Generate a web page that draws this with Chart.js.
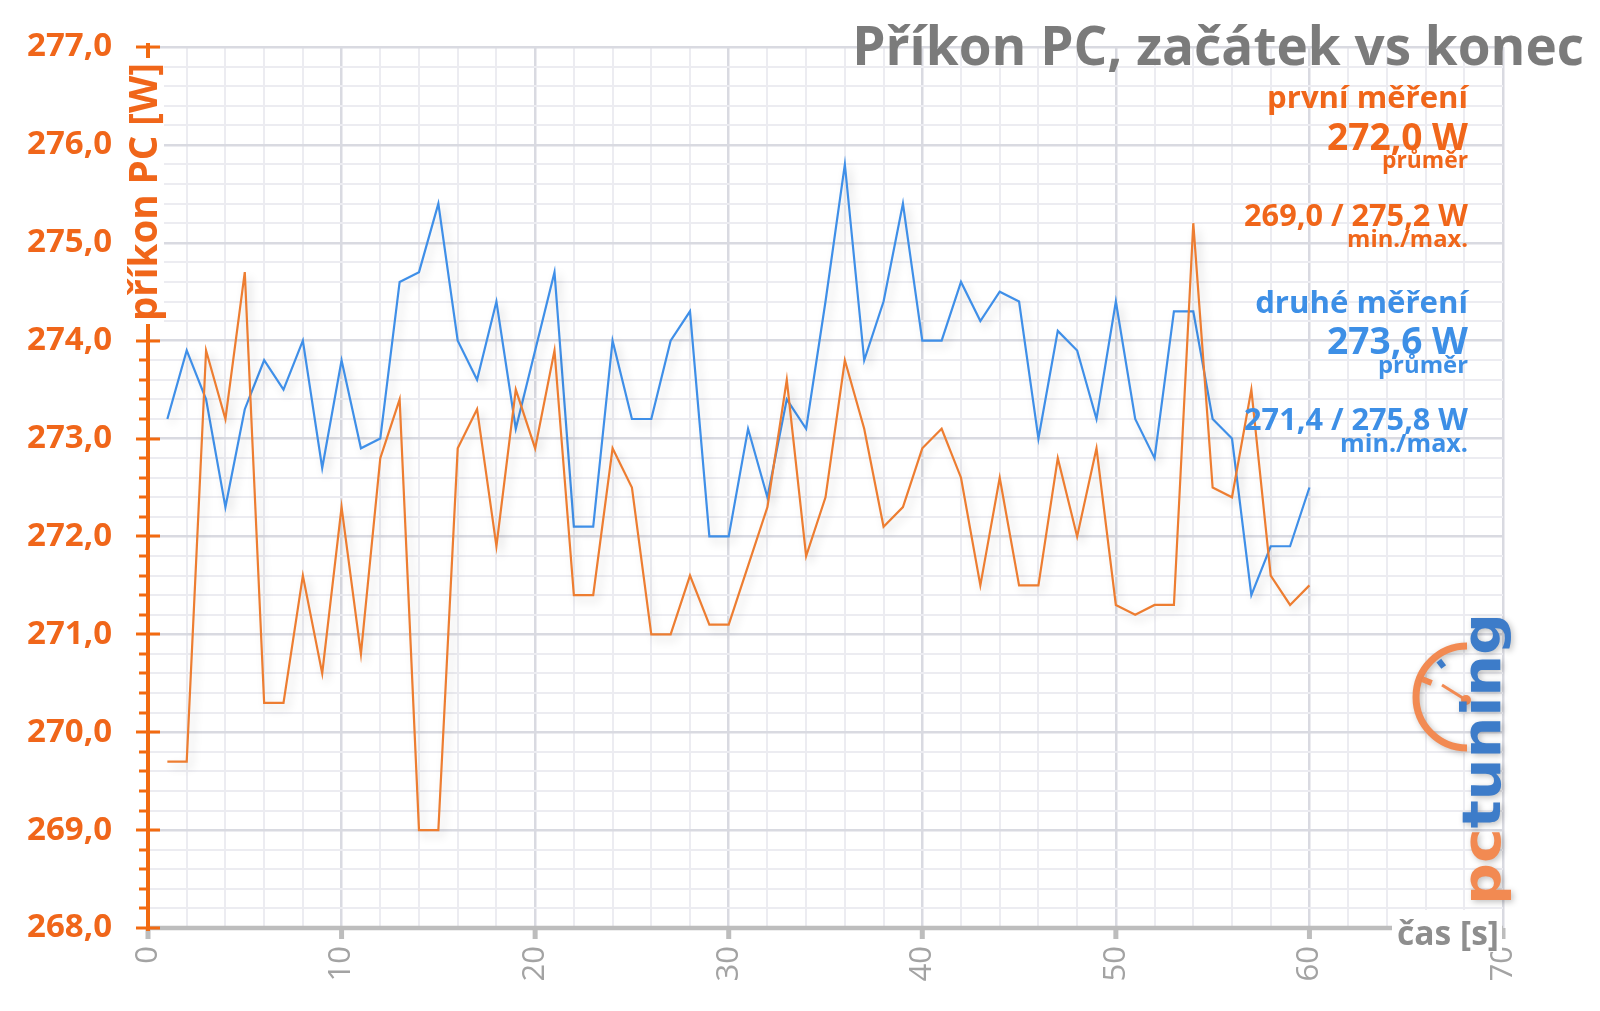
<!DOCTYPE html>
<html>
<head>
<meta charset="utf-8">
<script src="https://cdn.jsdelivr.net/npm/chart.js@4.4.1/dist/chart.umd.min.js"></script>
<style>
html,body{margin:0;padding:0;background:#ffffff;}
canvas{display:block;}
</style>
</head>
<body>
<canvas id="c" width="1600" height="1011"></canvas>
<script>
// ---------- data ----------
const seconds = [1,2,3,4,5,6,7,8,9,10,11,12,13,14,15,16,17,18,19,20,21,22,23,24,25,26,27,28,29,30,
                 31,32,33,34,35,36,37,38,39,40,41,42,43,44,45,46,47,48,49,50,51,52,53,54,55,56,57,58,59,60];
const firstRun = [269.7,269.7,273.9,273.2,274.7,270.3,270.3,271.6,270.6,272.3,
                  270.8,272.8,273.4,269.0,269.0,272.9,273.3,271.9,273.5,272.9,
                  273.9,271.4,271.4,272.9,272.5,271.0,271.0,271.6,271.1,271.1,
                  271.7,272.3,273.6,271.8,272.4,273.8,273.1,272.1,272.3,272.9,
                  273.1,272.6,271.5,272.6,271.5,271.5,272.8,272.0,272.9,271.3,
                  271.2,271.3,271.3,275.2,272.5,272.4,273.5,271.6,271.3,271.5];
const secondRun = [273.2,273.9,273.4,272.3,273.3,273.8,273.5,274.0,272.7,273.8,
                   272.9,273.0,274.6,274.7,275.4,274.0,273.6,274.4,273.1,273.9,
                   274.7,272.1,272.1,274.0,273.2,273.2,274.0,274.3,272.0,272.0,
                   273.1,272.4,273.4,273.1,274.4,275.8,273.8,274.4,275.4,274.0,
                   274.0,274.6,274.2,274.5,274.4,273.0,274.1,273.9,273.2,274.4,
                   273.2,272.8,274.3,274.3,273.2,273.0,271.4,271.9,271.9,272.5];
const xTickLabels = ['0','10','20','30','40','50','60','70'];
const yTickLabels = ['268,0','269,0','270,0','271,0','272,0','273,0','274,0','275,0','276,0','277,0'];
const seriesNames = ['první měření','druhé měření'];
const chartTitle = 'Příkon PC, začátek vs konec';
const yAxisTitle = 'příkon PC [W]';
const xAxisTitle = 'čas [s]';
const firstNotes = ['272,0 W','průměr','269,0 / 275,2 W','min./max.'];
const secondNotes = ['273,6 W','průměr','271,4 / 275,8 W','min./max.'];
const logoParts = ['pc','tuning'];

// ---------- styles ----------
const ORANGE_TEXT = '#f0661a';
const BLUE_TEXT = '#3d8fe6';
const ORANGE_LINE = '#ed7d31';
const BLUE_LINE = '#3f8fe8';
const GRID_MAJOR = '#d9dae1';
const GRID_MINOR = '#ececf1';
const FONT = 'Open Sans';

function fitText(ctx, text, x, y, targetW, weight, color, align) {
  ctx.font = `${weight} 40px "${FONT}"`;
  const w = ctx.measureText(text).width;
  const size = 40 * targetW / w;
  ctx.font = `${weight} ${size}px "${FONT}"`;
  ctx.fillStyle = color;
  ctx.textAlign = align;
  ctx.textBaseline = 'alphabetic';
  ctx.fillText(text, x, y);
}

const decor = {
  id: 'decor',
  beforeDatasetDraw(chart) {
    const ctx = chart.ctx;
    ctx.save();
    ctx.shadowColor = 'rgba(0,0,0,0.16)';
    ctx.shadowBlur = 10;
    ctx.shadowOffsetX = 4;
    ctx.shadowOffsetY = 5;
  },
  afterDatasetDraw(chart) {
    chart.ctx.restore();
  },
  afterDraw(chart) {
    const ctx = chart.ctx;
    const xs = chart.scales.x, ys = chart.scales.y;
    const x0 = xs.getPixelForValue(0), x70 = xs.getPixelForValue(70);
    const yBottom = ys.getPixelForValue(268), yTop = ys.getPixelForValue(277);
    ctx.save();
    // x axis line
    ctx.strokeStyle = '#bdbdbd';
    ctx.lineWidth = 4.5;
    ctx.beginPath(); ctx.moveTo(x0, yBottom); ctx.lineTo(x70, yBottom); ctx.stroke();
    // x major ticks
    ctx.lineWidth = 5;
    for (let v = 0; v <= 70; v += 10) {
      const px = xs.getPixelForValue(v);
      ctx.beginPath(); ctx.moveTo(px, yBottom); ctx.lineTo(px, yBottom + 11); ctx.stroke();
    }
    // y axis line
    ctx.strokeStyle = '#f26a10';
    ctx.lineWidth = 4;
    ctx.beginPath(); ctx.moveTo(x0, yTop - 4); ctx.lineTo(x0, yBottom + 3); ctx.stroke();
    // y ticks
    ctx.lineWidth = 3;
    for (let i = 0; i <= 45; i++) {
      const v = 268 + i * 0.2;
      const py = Math.round(ys.getPixelForValue(v));
      const major = i % 5 === 0;
      ctx.beginPath();
      if (major) { ctx.moveTo(x0 - 12, py); ctx.lineTo(x0 + 12, py); }
      else { ctx.moveTo(x0 - 9, py); ctx.lineTo(x0, py); }
      ctx.stroke();
    }
    // y axis title with white box
    ctx.fillStyle = '#ffffff';
    ctx.fillRect(x0 - 24, 58, 40, 266);
    ctx.save();
    ctx.translate(x0 + 9, 321);
    ctx.rotate(-Math.PI / 2);
    fitText(ctx, yAxisTitle, 0, 0, 258, 'bold', ORANGE_TEXT, 'left');
    ctx.restore();
    // x axis title with white box
    ctx.fillStyle = '#ffffff';
    ctx.fillRect(1392, 910, 110, 42);
    fitText(ctx, xAxisTitle, 1499, 945, 102, 'bold', '#8e8e8e', 'right');
    // chart title
    fitText(ctx, chartTitle, 1584, 65, 732, 'bold', '#7b7b7b', 'right');
    // annotations
    const R = 1468;
    fitText(ctx, seriesNames[0], R, 108, 201, 'bold', ORANGE_TEXT, 'right');
    fitText(ctx, firstNotes[0], R, 150, 141, 'bold', ORANGE_TEXT, 'right');
    fitText(ctx, firstNotes[1], R, 168, 86, 'bold', ORANGE_TEXT, 'right');
    fitText(ctx, firstNotes[2], R, 226, 224, 'bold', ORANGE_TEXT, 'right');
    fitText(ctx, firstNotes[3], R, 247, 121, 'bold', ORANGE_TEXT, 'right');
    fitText(ctx, seriesNames[1], R, 313, 213, 'bold', BLUE_TEXT, 'right');
    fitText(ctx, secondNotes[0], R, 354, 141, 'bold', BLUE_TEXT, 'right');
    fitText(ctx, secondNotes[1], R, 373, 90, 'bold', BLUE_TEXT, 'right');
    fitText(ctx, secondNotes[2], R, 430, 224, 'bold', BLUE_TEXT, 'right');
    fitText(ctx, secondNotes[3], R, 452, 128, 'bold', BLUE_TEXT, 'right');
    // logo
    ctx.shadowColor = 'rgba(0,0,0,0.25)';
    ctx.shadowBlur = 6; ctx.shadowOffsetX = 2; ctx.shadowOffsetY = 2;
    const cx = 1467, cy = 697;
    ctx.strokeStyle = '#f28a52';
    ctx.lineWidth = 7;
    ctx.beginPath(); ctx.arc(cx, cy, 51, Math.PI * 0.5, Math.PI * 1.5); ctx.stroke();
    ctx.lineWidth = 6;
    const a1 = Math.PI * 1.29;
    ctx.strokeStyle = '#3d7cc9';
    ctx.beginPath(); ctx.moveTo(cx + Math.cos(a1) * 38, cy + Math.sin(a1) * 38); ctx.lineTo(cx + Math.cos(a1) * 46, cy + Math.sin(a1) * 46); ctx.stroke();
    const a2 = Math.PI * 1.12;
    ctx.strokeStyle = '#f28a52';
    ctx.beginPath(); ctx.moveTo(cx + Math.cos(a2) * 38, cy + Math.sin(a2) * 38); ctx.lineTo(cx + Math.cos(a2) * 48, cy + Math.sin(a2) * 48); ctx.stroke();
    ctx.lineWidth = 3;
    ctx.beginPath(); ctx.moveTo(cx - 1, cy + 3); ctx.lineTo(cx - 25, cy - 12); ctx.stroke();
    ctx.fillStyle = '#f28a52';
    ctx.beginPath(); ctx.arc(cx - 1, cy + 3, 5, 0, Math.PI * 2); ctx.fill();
    ctx.save();
    ctx.translate(1500, 905);
    ctx.rotate(-Math.PI / 2);
    ctx.font = `bold 54px "DejaVu Sans"`;
    ctx.textAlign = 'left';
    ctx.textBaseline = 'alphabetic';
    const wAll = ctx.measureText(logoParts[0] + logoParts[1]).width;
    ctx.scale(292 / wAll, 1);
    ctx.fillStyle = '#f28a52';
    ctx.fillText(logoParts[0], 0, 0);
    const w0 = ctx.measureText(logoParts[0]).width;
    ctx.fillStyle = '#3d7cc9';
    ctx.fillText(logoParts[1], w0, 0);
    ctx.restore();
    ctx.restore();
  }
};

const ctx = document.getElementById('c').getContext('2d');
new Chart(ctx, {
  type: 'line',
  data: {
    datasets: [
      { label: seriesNames[0], data: seconds.map((s, i) => ({ x: s, y: firstRun[i] })),
        borderColor: ORANGE_LINE, borderWidth: 2.2, pointRadius: 0, tension: 0, fill: false },
      { label: seriesNames[1], data: seconds.map((s, i) => ({ x: s, y: secondRun[i] })),
        borderColor: BLUE_LINE, borderWidth: 2.2, pointRadius: 0, tension: 0, fill: false }
    ]
  },
  options: {
    responsive: false,
    animation: false,
    devicePixelRatio: 1,
    layout: { padding: { top: 47, right: 97, left: 0, bottom: 0 } },
    plugins: { legend: { display: false }, tooltip: { enabled: false }, title: { display: false } },
    scales: {
      x: {
        type: 'linear', min: 0, max: 70,
        afterFit(s) { s.height = 83; },
        border: { display: false },
        grid: {
          drawTicks: false,
          color: (c) => (c.tick && Math.round(c.tick.value) % 10 === 0) ? GRID_MAJOR : GRID_MINOR,
          lineWidth: (c) => (c.tick && Math.round(c.tick.value) % 10 === 0) ? 2.5 : 2
        },
        ticks: {
          stepSize: 2, autoSkip: false, maxRotation: 90, minRotation: 90, padding: 18,
          color: '#a3a3a3', font: { family: FONT, size: 31 },
          callback: (v) => { const r = Math.round(v); return r % 10 === 0 ? xTickLabels[r / 10] : ''; }
        }
      },
      y: {
        min: 268, max: 277,
        afterFit(s) { s.width = 148; },
        border: { display: false },
        grid: {
          drawTicks: true, tickLength: 36, tickColor: 'rgba(0,0,0,0)',
          color: (c) => { if (!c.tick) return GRID_MINOR; const v = c.tick.value; return Math.abs(v - Math.round(v)) < 1e-6 ? GRID_MAJOR : GRID_MINOR; },
          lineWidth: (c) => { if (!c.tick) return 2; const v = c.tick.value; return Math.abs(v - Math.round(v)) < 1e-6 ? 2.5 : 2; }
        },
        ticks: {
          stepSize: 0.2, autoSkip: false, padding: 0,
          color: ORANGE_TEXT, font: { family: FONT, size: 33, weight: 'bold' },
          callback: (v) => { const r = Math.round(v); return Math.abs(v - r) < 1e-6 ? yTickLabels[r - 268] : ''; }
        }
      }
    }
  },
  plugins: [decor]
});
</script>
</body>
</html>
